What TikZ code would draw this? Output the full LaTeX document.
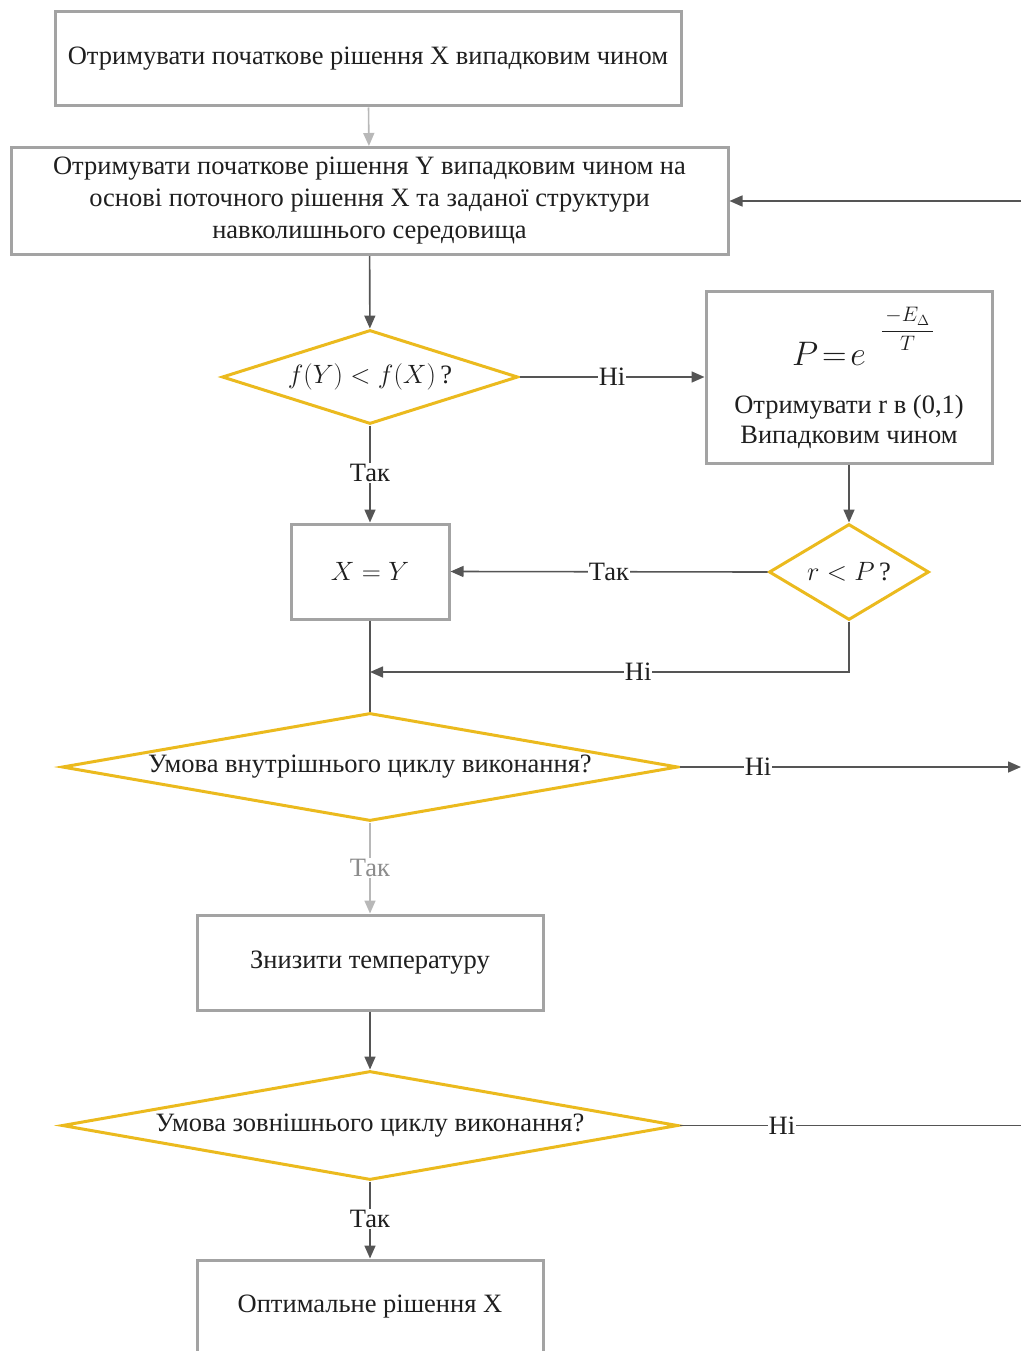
\documentclass[tikz,border=0pt]{standalone}
\usepackage{fix-cm}
\usepackage{fontspec}
\setmainfont{Liberation Serif}
\usetikzlibrary{shapes.geometric,arrows.meta}

\definecolor{boxgray}{HTML}{A3A3A3}
\definecolor{gold}{HTML}{EBBA1E}
\definecolor{linegray}{HTML}{555555}
\definecolor{lightline}{HTML}{B8B8B8}

\tikzset{
  x=1pt, y=-1pt,
  every node/.style={font=\fontsize{26.5}{32}\selectfont, text=black!88},
  procbox/.style={draw=boxgray, line width=3pt, fill=white, rectangle,
    inner sep=0pt, align=center},
  decision/.style={draw=gold, line width=3pt, fill=white, diamond,
    inner sep=0pt, align=center},
  flow/.style={draw=linegray, line width=1.6pt,
    -{Triangle[length=13pt,width=11pt]}},
  flowplain/.style={draw=linegray, line width=1.6pt},
  flowlight/.style={draw=lightline, line width=1.6pt,
    -{Triangle[length=13pt,width=11pt]}},
  lbl/.style={fill=white, inner sep=1pt},
}

\begin{document}
\begin{tikzpicture}
\useasboundingbox (0,0) rectangle (1021,1351);
\clip (0,0) rectangle (1021,1351);

% process boxes
\node[procbox, minimum width=626, minimum height=94] (init) at (368,59)
  {Отримувати початкове рішення X випадковим чином};
\node[procbox, minimum width=717, minimum height=107] (neigh) at (369.5,201)
  {Отримувати початкове рішення Y випадковим чином на\\
   основі поточного рішення X та заданої структури\\
   навколишнього середовища};
\node[procbox, minimum width=286, minimum height=172] (prob) at (849,377) {};
% acceptance probability P = e^{-E/T}, base and raised exponent
\node[font=\fontsize{34}{38}\selectfont, anchor=base west, inner sep=0pt]
  (formula) at (792,365) {$P\mkern2mu{=}\mkern2mu e$};
\node[font=\fontsize{21}{24}\selectfont, inner sep=0pt] (expo) at (907.5,329)
  {$\displaystyle\frac{\mkern3mu-E_\Delta\mkern3mu}{T}$};
\node[align=center, font=\fontsize{26.5}{30}\selectfont] (probtxt) at (849,422)
  {Отримувати r в (0,1)\\Випадковим чином};
\node[procbox, minimum width=158, minimum height=95] (assign) at (370,571.5)
  {$X = Y$};
\node[procbox, minimum width=346, minimum height=95] (cool) at (370,962.5)
  {Знизити температуру};
\node[procbox, minimum width=346, minimum height=100] (result) at (370,1310)
  {};
\node (resulttxt) at (370,1307) {Оптимальне рішення X};

% decisions
\node[decision, aspect=3.15, minimum width=296, minimum height=94] (cmp)
  at (370,377) {$f(Y) < f(X)$\,?};
\node[decision, aspect=1.67, minimum width=160, minimum height=96] (accept)
  at (849,572) {$r < P$\,?};
\node[decision, aspect=5.7, minimum width=616, minimum height=108] (inner)
  at (370,767) {Умова внутрішнього циклу виконання?};
\node[decision, aspect=5.65, minimum width=616, minimum height=109] (outer)
  at (370,1125.5) {Умова зовнішнього циклу виконання?};

% loose ends at the right margin
\coordinate (loopin) at (1021,201);
\coordinate (innerout) at (1021,767);
\coordinate (outerout) at (1021,1125.5);
\coordinate (merge) at (370,672);

% connectors
\draw[flowlight] (init) -- (neigh);
\draw[flow] (loopin) -- (neigh.east);
\draw[flow] (neigh) -- (cmp);
\draw[flow] (cmp.east) -- node[lbl, pos=0.5] {Ні} (prob.west);
\draw[flow] (cmp) -- node[lbl, pos=0.49] {Так} (assign);
\draw[flow] (prob) -- (accept);
\draw[flow] (accept.west) -- node[lbl, pos=0.5] {Так} (assign.east);
\draw[flowplain] (assign) -- (inner.north);
\draw[flow] (accept.south) |- node[lbl, pos=0.72] {Ні} (merge);
\draw[flow] (inner.east) -- node[lbl, pos=0.23] {Ні} (innerout);
\draw[flowlight] (inner) -- node[lbl, pos=0.5, text=black!45] {Так} (cool);
\draw[flow] (cool) -- (outer);
\draw[flowplain] (outer.east) -- node[lbl, pos=0.3] {Ні} (outerout);
\draw[flow] (outer) -- node[lbl, pos=0.49] {Так} (result);
\end{tikzpicture}
\end{document}
